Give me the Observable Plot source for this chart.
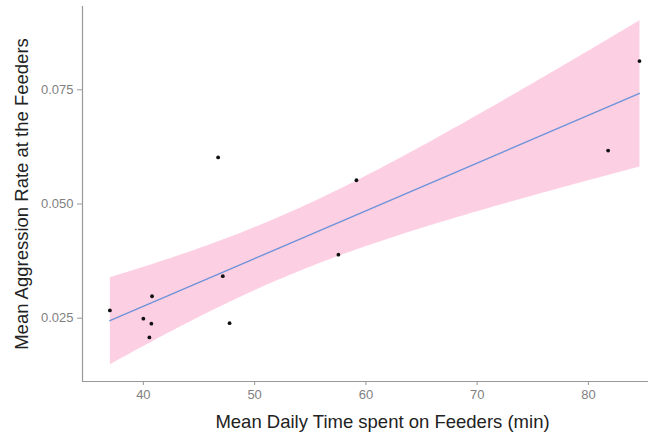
<!DOCTYPE html>
<html>
<head>
<meta charset="utf-8">
<script src="https://cdn.jsdelivr.net/npm/d3@7"></script>
<script src="https://cdn.jsdelivr.net/npm/@observablehq/plot@0.6"></script>
<style>
  html, body { margin: 0; padding: 0; background: #fff; }
  #chart svg { display: block; }
</style>
</head>
<body>
<div id="chart"></div>
<script>
// Data
const timeOnFeeders = [36.99, 40.0, 40.78, 40.72, 40.54, 46.72, 47.14, 47.75, 57.53, 59.15, 81.77, 84.59];
const aggressionRate = [0.0267, 0.0249, 0.0298, 0.0238, 0.0208, 0.0602, 0.0342, 0.0239, 0.0389, 0.0552, 0.0617, 0.0813];
const xTicks = [40, 50, 60, 70, 80];
const yTicks = [0.025, 0.050, 0.075];
const xDomain = [34.53, 85.4];
const yDomain = [0.01114, 0.09324];
const xTitle = "Mean Daily Time spent on Feeders (min)";
const yTitle = "Mean Aggression Rate at the Feeders";

const data = timeOnFeeders.map((x, i) => ({x, y: aggressionRate[i]}));

const chart = Plot.plot({
  width: 649,
  height: 434,
  marginLeft: 82,
  marginRight: 1,
  marginTop: 6,
  marginBottom: 53,
  style: {fontFamily: "'Liberation Sans', Arial, sans-serif", background: "#fff"},
  x: {domain: xDomain},
  y: {domain: yDomain},
  marks: [
    Plot.linearRegressionY(data, {x: "x", y: "y", ci: 0.95, stroke: "#6e93d9", strokeWidth: 1.4, fill: "#fdcfe3", fillOpacity: 1}),
    Plot.dot(data, {x: "x", y: "y", r: 1.9, fill: "#111", stroke: "none"}),
    Plot.ruleX([xDomain[0]], {stroke: "#999", strokeWidth: 1.2}),
    Plot.ruleY([yDomain[0]], {stroke: "#999", strokeWidth: 1.2}),
    Plot.axisX({ticks: xTicks, tickSize: 4, tickPadding: 4, fontSize: 13, color: "#7f7f7f", stroke: "#999",
      label: xTitle, labelAnchor: "center", labelOffset: 46, labelArrow: false}),
    Plot.axisY({ticks: yTicks, tickFormat: d3.format(".3f"), tickSize: 5, tickPadding: 4, fontSize: 13, color: "#7f7f7f", stroke: "#999",
      label: yTitle, labelAnchor: "center", labelOffset: 68, labelArrow: false})
  ]
});

// style axis titles darker and larger
chart.querySelectorAll("g[aria-label='x-axis label'] text, g[aria-label='y-axis label'] text").forEach(t => {
  t.setAttribute("fill", "#222");
  t.style.fontSize = "18.5px";
});
chart.querySelectorAll("g[aria-label='x-axis label'] text").forEach(t => {
  t.setAttribute("dx", "17");
});
document.getElementById("chart").appendChild(chart);
</script>
</body>
</html>
